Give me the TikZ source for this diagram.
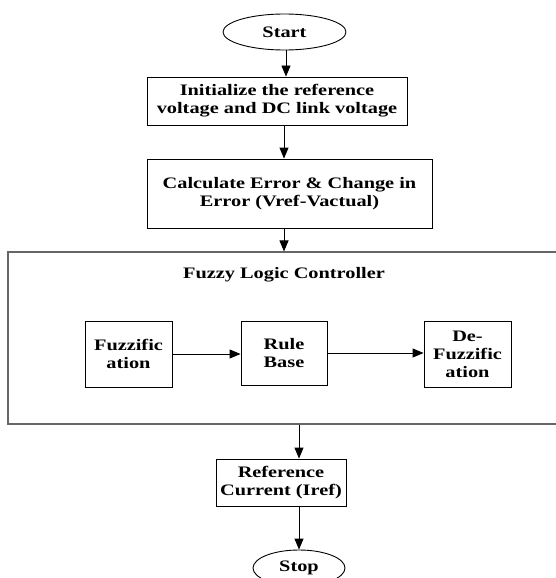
\documentclass[tikz,border=0pt]{standalone}
\usepackage{fontspec}
\setmainfont[FakeStretch=1.27]{Liberation Serif}
\usetikzlibrary{shapes.geometric,arrows.meta,calc}
\tikzset{
  lbl/.style={font=\bfseries\fontsize{16}{18}\selectfont, align=center, inner sep=0pt},
  blk/.style={lbl, draw=black, line width=0.9pt, rectangle},
  term/.style={lbl, draw=black, line width=0.9pt, ellipse},
  flow/.style={draw=black, line width=0.9pt, -{Triangle[length=11pt,width=9pt]}},
}
\begin{document}
\begin{tikzpicture}[x=1pt,y=-1pt]
  \useasboundingbox (0,0) rectangle (556,578);
  \clip (0,0) rectangle (556,578);
  \fill[white] (0,0) rectangle (556,578);

  % main flow
  \node[term, minimum width=123pt, minimum height=36pt] (start) at (284.5,32) {Start};
  \node[blk, minimum width=260pt, minimum height=48pt] (init) at (277,101)
    {Initialize the reference\\voltage and DC link voltage};
  \node[blk, minimum width=285pt, minimum height=69pt] (calc) at (289.5,193.5)
    {Calculate Error \& Change in\\Error (Vref-Vactual)};

  % controller frame (runs past the right edge)
  \node[draw=black!60, line width=1.1pt, rectangle, inner sep=0pt,
        minimum width=600pt, minimum height=172pt] (flc) at (308,338) {};
  \node[lbl] (flctitle) at (284,275) {Fuzzy Logic Controller};
  \node[blk, minimum width=87pt, minimum height=66pt] (fuzz) at (128.5,354) {Fuzzific\\ation};
  \node[blk, minimum width=86pt, minimum height=64pt] (rule) at (284,353) {Rule\\Base};
  \node[blk, minimum width=87pt, minimum height=66pt] (defuzz) at (467.5,354) {De-\\Fuzzific\\ation};

  \node[blk, minimum width=130pt, minimum height=47pt] (ref) at (281,482.5)
    {Reference\\Current (Iref)};
  \node[term, minimum width=92pt, minimum height=36pt] (stop) at (299,568) {Stop};

  % connectors
  \draw[flow] ([xshift=1.5pt]start.south) -- ([xshift=1.5pt]start.south |- init.north);
  \draw[flow] ([xshift=7pt]init.south) -- ([xshift=7pt]init.south |- calc.north);
  \draw[flow] ([xshift=-5.5pt]calc.south) -- ([xshift=-5.5pt]calc.south |- flc.north);
  \draw[flow] (fuzz.east) -- (fuzz.east -| rule.west);
  \draw[flow] (rule.east) -- (rule.east -| defuzz.west);
  \draw[flow] (stop.north |- flc.south) -- (stop.north |- ref.north);
  \draw[flow] (stop.north |- ref.south) -- (stop.north);
\end{tikzpicture}
\end{document}
